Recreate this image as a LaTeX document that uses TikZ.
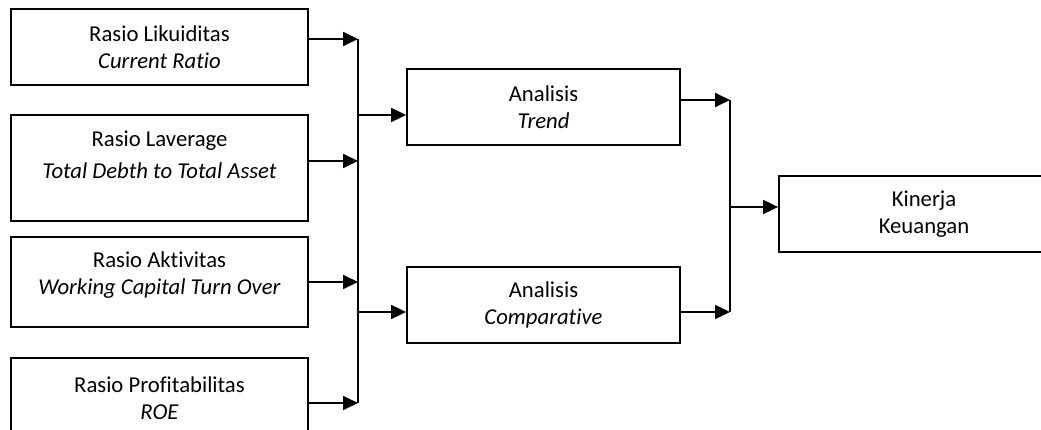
\documentclass[tikz,border=0pt]{standalone}
\usepackage{fontspec}
\setmainfont{Carlito}[Ligatures=NoCommon]
\usetikzlibrary{arrows.meta}

\begin{document}
\begin{tikzpicture}[x=1pt,y=-1pt,
    box/.style={draw,line width=1.8pt,align=center,inner sep=0pt,font=\fontsize{22.7}{27}\selectfont},
    arr/.style={line width=1.8pt,-{Triangle[length=15pt,width=14pt]}}]
        \useasboundingbox (0,0) rectangle (1041,430);
        % left column
        \node[box,minimum width=297,minimum height=76] (lik) at (159.5,47) {Rasio Likuiditas\\\textit{Current Ratio}};
        \node[box,minimum width=297,minimum height=106] (lev) at (159.5,168) {Rasio Laverage\\[5pt]\textit{Total Debth to Total Asset}\rule[-26pt]{0pt}{26pt}};
        \node[box,minimum width=297,minimum height=90] (akt) at (159.5,282) {Rasio Aktivitas\\\textit{Working Capital Turn Over}\rule[-18pt]{0pt}{18pt}};
        \node[box,minimum width=297,minimum height=80] (pro) at (159.5,398) {Rasio Profitabilitas\\\textit{ROE}};
        % middle and right
        \node[box,minimum width=273,minimum height=76] (trend) at (543.5,107) {Analisis\\\textit{Trend}};
        \node[box,minimum width=273,minimum height=76] (comp) at (543.5,305) {Analisis\\\textit{Comparative}};
        \node[box,minimum width=290,minimum height=76] (kin) at (924,214) {Kinerja\\Keuangan};
        \coordinate (b1) at (358,39);
        \coordinate (b2) at (358,161);
        \coordinate (b3) at (358,282);
        \coordinate (b4) at (358,403);
        \coordinate (bt) at (358,115);
        \coordinate (bc) at (358,312);
        \coordinate (c1) at (730,100);
        \coordinate (c2) at (730,312);
        \coordinate (ck) at (730,207);
        \draw[arr] (lik.east |- b1) -- (b1);
        \draw[arr] (lev.east |- b2) -- (b2);
        \draw[arr] (akt.east |- b3) -- (b3);
        \draw[arr] (pro.east |- b4) -- (b4);
        \draw[line width=1.8pt] (b1) -- (b4);
        \draw[arr] (bt) -- (trend.west |- bt);
        \draw[arr] (bc) -- (comp.west |- bc);
        \draw[arr] (trend.east |- c1) -- (c1);
        \draw[arr] (comp.east |- c2) -- (c2);
        \draw[line width=1.8pt] (c1) -- (c2);
        \draw[arr] (ck) -- (kin.west |- ck);
      \end{tikzpicture}
\end{document}
